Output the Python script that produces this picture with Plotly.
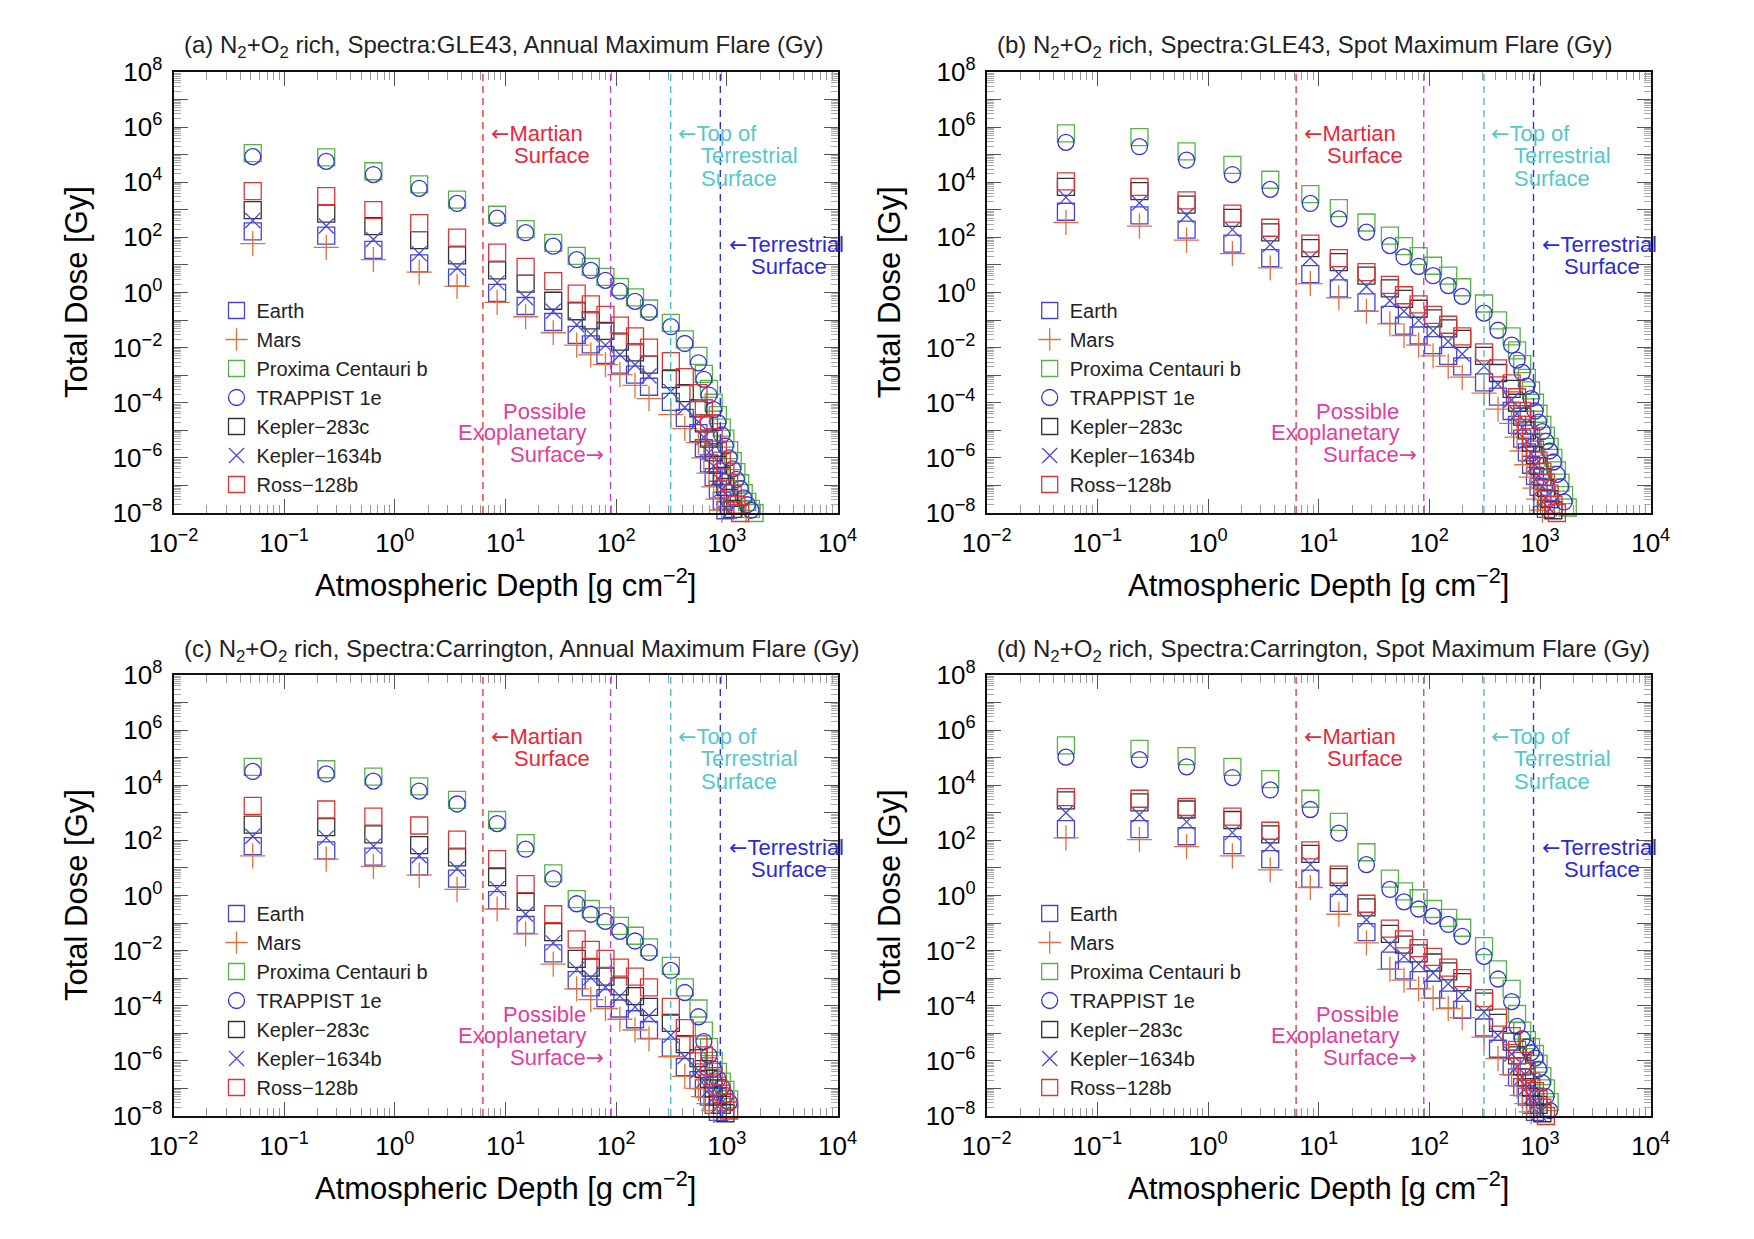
import plotly.graph_objects as go

# ---------------- data (log10 of total dose in Gy) ----------------
DEPTH = [0.052, 0.24, 0.64, 1.66, 3.65, 8.4, 15.2, 27, 44, 59, 80, 108, 148, 198, 312, 417, 554,
         620, 690, 760, 830, 900, 970, 1050, 1130, 1220, 1320, 1420, 1530, 1650, 1780, 1920]

SERIES = ["Earth", "Mars", "Proxima Centauri b", "TRAPPIST 1e",
          "Kepler\u2212283c", "Kepler\u22121634b", "Ross\u2212128b"]

# (a) GLE43, annual maximum flare
a_earth = [2.22, 2.06, 1.55, 1.06, 0.54, -0.01, -0.49, -1.07, -1.54, -1.88, -2.26, -2.62, -2.98, -3.42, -3.97, -4.55, -5.10, -5.65, -6.20, -6.70, -7.15, -7.55, -7.90]
a_mars = [1.77, 1.64, 1.19, 0.74, 0.22, -0.36, -0.88, -1.46, -1.91, -2.26, -2.62, -2.98, -3.37, -3.85, -4.43, -4.94, -5.45, -6.00, -6.55, -7.05, -7.50, -7.90]
a_proxima = [5.06, 4.90, 4.40, 3.92, 3.37, 2.82, 2.30, 1.80, 1.33, 0.93, 0.57, 0.20, -0.18, -0.58, -1.10, -1.70, -2.30, -2.95, -3.50, -4.00, -4.45, -4.90, -5.30, -5.72, -6.12, -6.52, -6.92, -7.28, -7.60, -7.85, -8.00]
a_trappist = [4.93, 4.76, 4.28, 3.78, 3.23, 2.70, 2.17, 1.68, 1.19, 0.80, 0.44, 0.05, -0.32, -0.72, -1.24, -1.85, -2.55, -3.15, -3.72, -4.25, -4.72, -5.17, -5.57, -6.00, -6.40, -6.78, -7.12, -7.45, -7.70, -7.90]
a_k283 = [2.99, 2.86, 2.41, 1.90, 1.35, 0.80, 0.32, -0.30, -0.68, -1.01, -1.39, -1.78, -2.17, -2.62, -3.14, -3.65, -4.20, -4.75, -5.30, -5.80, -6.25, -6.65, -7.05, -7.45, -7.85]
a_k1634 = [2.61, 2.41, 1.92, 1.41, 0.89, 0.35, -0.19, -0.68, -1.17, -1.52, -1.91, -2.26, -2.62, -3.03, -3.59, -4.17, -4.70, -5.25, -5.80, -6.30, -6.75, -7.15, -7.55, -7.95]
a_ross = [3.68, 3.50, 2.99, 2.52, 1.99, 1.45, 0.93, 0.41, -0.04, -0.43, -0.81, -1.20, -1.59, -2.00, -2.49, -3.07, -3.65, -4.20, -4.75, -5.25, -5.70, -6.10, -6.50, -6.90, -7.30, -7.70, -8.00]

# (b) GLE43, spot maximum flare
b_earth = [2.93, 2.80, 2.28, 1.77, 1.25, 0.67, 0.15, -0.36, -0.81, -1.20, -1.56, -1.91, -2.30, -2.68, -3.26, -3.78, -4.30, -4.80, -5.30, -5.80, -6.25, -6.65, -7.05, -7.45, -7.85]
b_mars = [2.54, 2.41, 1.90, 1.41, 0.89, 0.32, -0.19, -0.68, -1.14, -1.56, -1.91, -2.30, -2.68, -3.07, -3.65, -4.23, -4.75, -5.25, -5.75, -6.25, -6.70, -7.10, -7.50, -7.90]
b_proxima = [5.77, 5.64, 5.12, 4.63, 4.09, 3.57, 3.06, 2.54, 2.06, 1.68, 1.32, 0.97, 0.61, 0.19, -0.40, -1.01, -1.59, -2.10, -2.60, -3.10, -3.55, -4.00, -4.40, -4.80, -5.20, -5.60, -6.00, -6.45, -6.90, -7.35, -7.80, -8.05]
b_trappist = [5.45, 5.29, 4.80, 4.28, 3.74, 3.23, 2.67, 2.19, 1.70, 1.29, 0.95, 0.61, 0.25, -0.14, -0.75, -1.37, -1.91, -2.45, -2.90, -3.40, -3.85, -4.30, -4.70, -5.05, -5.40, -5.75, -6.15, -6.60, -7.05, -7.60]
b_k283 = [3.83, 3.68, 3.19, 2.71, 2.18, 1.61, 1.10, 0.61, 0.15, -0.23, -0.59, -0.94, -1.30, -1.68, -2.30, -2.92, -3.50, -4.00, -4.50, -5.00, -5.45, -5.90, -6.30, -6.70, -7.10, -7.50, -7.90]
b_k1634 = [3.45, 3.25, 2.80, 2.28, 1.74, 1.25, 0.67, 0.22, -0.30, -0.68, -1.01, -1.39, -1.78, -2.23, -2.68, -3.33, -3.90, -4.40, -4.90, -5.40, -5.85, -6.25, -6.65, -7.05, -7.45, -7.85]
b_ross = [4.03, 3.83, 3.34, 2.86, 2.35, 1.77, 1.25, 0.74, 0.28, -0.10, -0.43, -0.81, -1.17, -1.59, -2.17, -2.75, -3.30, -3.80, -4.30, -4.80, -5.25, -5.70, -6.10, -6.50, -6.90, -7.30, -7.70, -8.00]

# (c) Carrington, annual maximum flare
c_earth = [1.79, 1.64, 1.41, 1.06, 0.61, -0.17, -1.07, -2.10, -3.07, -3.33, -3.72, -4.10, -4.49, -4.88, -5.52, -6.23, -6.70, -7.00, -7.30, -7.60, -7.85]
c_mars = [1.44, 1.32, 1.06, 0.74, 0.22, -0.49, -1.39, -2.49, -3.39, -3.78, -4.10, -4.49, -4.88, -5.20, -5.85, -6.56, -7.00, -7.30, -7.55, -7.80]
c_proxima = [4.67, 4.58, 4.31, 3.96, 3.47, 2.74, 1.90, 0.80, -0.13, -0.49, -0.75, -1.10, -1.46, -1.88, -2.55, -3.33, -4.10, -4.90, -5.50, -6.00, -6.40, -6.75, -7.05, -7.40]
c_trappist = [4.50, 4.41, 4.15, 3.79, 3.32, 2.61, 1.68, 0.61, -0.30, -0.68, -0.94, -1.30, -1.65, -2.06, -2.72, -3.52, -4.40, -5.30, -5.80, -6.30, -6.65, -6.95, -7.25, -7.50]
c_k283 = [2.57, 2.48, 2.22, 1.83, 1.38, 0.67, -0.23, -1.33, -2.30, -2.62, -2.94, -3.30, -3.65, -4.04, -4.62, -5.39, -5.90, -6.30, -6.65, -7.00, -7.30, -7.60, -7.90]
c_k1634 = [2.15, 2.09, 1.79, 1.44, 0.97, 0.25, -0.68, -1.72, -2.68, -2.98, -3.33, -3.65, -4.04, -4.36, -5.07, -5.85, -6.35, -6.70, -7.05, -7.35, -7.65, -7.95]
c_ross = [3.25, 3.12, 2.86, 2.54, 2.03, 1.32, 0.41, -0.68, -1.59, -1.97, -2.30, -2.62, -2.94, -3.33, -4.04, -4.81, -5.40, -5.80, -6.20, -6.55, -6.90, -7.20, -7.50, -7.80]

# (d) Carrington, spot maximum flare
d_earth = [2.41, 2.41, 2.15, 1.83, 1.32, 0.61, -0.27, -1.33, -2.36, -2.72, -3.07, -3.42, -3.78, -4.15, -4.79, -5.56, -6.20, -6.60, -6.95, -7.30, -7.60, -7.85]
d_mars = [2.09, 2.03, 1.77, 1.44, 0.93, 0.29, -0.68, -1.72, -2.68, -3.07, -3.39, -3.72, -4.10, -4.43, -5.14, -5.92, -6.50, -6.90, -7.25, -7.55, -7.85]
d_proxima = [5.45, 5.32, 5.06, 4.67, 4.22, 3.51, 2.67, 1.57, 0.61, 0.15, -0.10, -0.49, -0.81, -1.17, -1.84, -2.68, -3.39, -4.30, -4.90, -5.25, -5.50, -5.75, -6.10, -6.55, -7.00, -7.50]
d_trappist = [5.02, 4.93, 4.67, 4.28, 3.83, 3.12, 2.26, 1.12, 0.22, -0.23, -0.49, -0.75, -1.05, -1.48, -2.21, -3.03, -3.85, -4.75, -5.20, -5.50, -5.70, -5.90, -6.30, -6.80, -7.30, -7.80]
d_k283 = [3.45, 3.38, 3.12, 2.74, 2.22, 1.51, 0.67, -0.43, -1.39, -1.78, -2.10, -2.43, -2.75, -3.14, -3.85, -4.62, -5.30, -5.80, -6.20, -6.60, -6.95, -7.30, -7.60, -7.90]
d_k1634 = [3.00, 2.93, 2.67, 2.28, 1.83, 1.12, 0.22, -0.88, -1.78, -2.21, -2.49, -2.81, -3.20, -3.59, -4.23, -5.07, -5.75, -6.20, -6.60, -6.95, -7.30, -7.60, -7.90]
d_ross = [3.57, 3.51, 3.21, 2.86, 2.35, 1.64, 0.76, -0.30, -1.20, -1.59, -1.91, -2.23, -2.62, -3.00, -3.72, -4.43, -5.10, -5.60, -6.00, -6.40, -6.75, -7.10, -7.40, -7.70, -8.00]

PANEL_LABELS = ["(a)", "(b)", "(c)", "(d)"]
PANEL_SPECTRA = ["GLE43", "GLE43", "Carrington", "Carrington"]
PANEL_FLARE = ["Annual", "Spot", "Annual", "Spot"]
PANEL_DATA = [
    [a_earth, a_mars, a_proxima, a_trappist, a_k283, a_k1634, a_ross],
    [b_earth, b_mars, b_proxima, b_trappist, b_k283, b_k1634, b_ross],
    [c_earth, c_mars, c_proxima, c_trappist, c_k283, c_k1634, c_ross],
    [d_earth, d_mars, d_proxima, d_trappist, d_k283, d_k1634, d_ross],
]

# reference depths (g cm^-2)
MARTIAN_SURFACE = 6.25
EXO_SURFACE = 89
TOP_TERRESTRIAL = 311
TERRESTRIAL_SURFACE = 873

X_TICK_EXP = [-2, -1, 0, 1, 2, 3, 4]
Y_TICK_EXP = list(range(-8, 9))

# ---------------- styling ----------------
FIG_W, FIG_H = 1754, 1239
FONT = "Liberation Sans, Arial, Helvetica, sans-serif"
LEFTS = [173.5, 986.7, 173.5, 986.7]
TOPS = [72, 72, 675, 675]
PW, PH = 664, 441

STYLES = [
    dict(symbol="square-open", color="#4545d2", size=17),
    dict(symbol="cross-thin-open", color="#e2703e", size=18),
    dict(symbol="square-open", color="#55b348", size=17),
    dict(symbol="circle-open", color="#3535d5", size=16),
    dict(symbol="square-open", color="#333333", size=17),
    dict(symbol="x-thin-open", color="#4a4ad8", size=15),
    dict(symbol="square-open", color="#e03434", size=17),
]

LARR = "<span style='font-family:DejaVu Sans'>\u2190</span>"
RARR = "<span style='font-family:DejaVu Sans'>\u2192</span>"


def px_x(px):
    return px / FIG_W


def px_y(py):
    return 1 - py / FIG_H


fig = go.Figure()

x_minor = [m * 10 ** e for e in range(-2, 4) for m in range(2, 10)]
y_minor = [m * 10 ** e for e in range(-8, 8) for m in range(2, 10)]

annotations = []
shapes = []

for i in range(4):
    xa = "x" if i == 0 else f"x{i+1}"
    ya = "y" if i == 0 else f"y{i+1}"
    xkey = "xaxis" if i == 0 else f"xaxis{i+1}"
    ykey = "yaxis" if i == 0 else f"yaxis{i+1}"
    lkey = "legend" if i == 0 else f"legend{i+1}"
    L, T = LEFTS[i], TOPS[i]

    for j, (name, vals) in enumerate(zip(SERIES, PANEL_DATA[i])):
        st = STYLES[j]
        fig.add_trace(go.Scatter(
            x=DEPTH[:len(vals)], y=[10 ** v for v in vals],
            mode="markers", name=name, xaxis=xa, yaxis=ya,
            legend=lkey, legendgroup=f"p{i}s{j}",
            cliponaxis=False,
            marker=dict(symbol=st["symbol"], size=st["size"], color=st["color"],
                        line=dict(color=st["color"], width=1.3)),
        ))

    fig.layout[xkey] = dict(
        type="log", range=[-2, 4], domain=[px_x(L), px_x(L + PW)], anchor=ya,
        automargin=False,
        showline=True, linecolor="#111111", linewidth=2, mirror="allticks",
        ticks="inside", ticklen=14, tickwidth=1.2, tickcolor="#555555",
        tickvals=[10 ** e for e in X_TICK_EXP],
        ticktext=[f"10<sup>{e}</sup>".replace("-", "\u2212") for e in X_TICK_EXP],
        ticklabelstandoff=6,
        minor=dict(tickmode="array", tickvals=x_minor, ticks="inside", ticklen=8,
                   tickwidth=1, tickcolor="#999999", showgrid=False),
        showgrid=False, zeroline=False,
        tickfont=dict(family=FONT, size=26, color="black"),
    )
    fig.layout[ykey] = dict(
        type="log", range=[-8, 8], domain=[px_y(T + PH), px_y(T)], anchor=xa,
        automargin=False,
        showline=True, linecolor="#111111", linewidth=2, mirror="allticks",
        ticks="inside", ticklen=14, tickwidth=1.2, tickcolor="#555555",
        tickvals=[10 ** e for e in Y_TICK_EXP],
        ticktext=[(f"10<sup>{e}</sup>".replace("-", "\u2212") if e % 2 == 0 else "") for e in Y_TICK_EXP],
        ticklabelstandoff=4,
        minor=dict(tickmode="array", tickvals=y_minor, ticks="inside", ticklen=7,
                   tickwidth=1, tickcolor="#aaaaaa", showgrid=False),
        showgrid=False, zeroline=False,
        tickfont=dict(family=FONT, size=26, color="black"),
    )

    fig.layout[lkey] = dict(
        x=px_x(L + 43), y=px_y(T + 219), xanchor="left", yanchor="top",
        bgcolor="rgba(0,0,0,0)", borderwidth=0, tracegroupgap=0,
        font=dict(family=FONT, size=20, color="#222222"),
    )

    # vertical reference lines
    for xv, col in [(MARTIAN_SURFACE, "#e23c3c"), (EXO_SURFACE, "#c244cc"),
                    (TOP_TERRESTRIAL, "#44c2c8"), (TERRESTRIAL_SURFACE, "#2e2ee0")]:
        shapes.append(dict(type="line", xref=xa, yref=f"{ya} domain", x0=xv, x1=xv, y0=0, y1=1,
                           line=dict(color=col, width=1.4, dash="7px,5px")))

    # text labels for reference lines (log10 coordinates)
    labels = [
        (LARR + "Martian", 0.86, 5.77, "left", "#e8283a"),
        ("Surface", 1.068, 4.97, "left", "#e8283a"),
        (LARR + "Top of", 2.548, 5.77, "left", "#55c8c8"),
        ("Terrestrial", 2.757, 4.97, "left", "#55c8c8"),
        ("Surface", 2.757, 4.15, "left", "#55c8c8"),
        (LARR + "Terrestrial", 3.008, 1.75, "left", "#2a2ad8"),
        ("Surface", 3.205, 0.95, "left", "#2a2ad8"),
        ("Possible", 1.737, -4.32, "right", "#e0409c"),
        ("Exoplanetary", 1.737, -5.08, "right", "#e0409c"),
        ("Surface" + RARR, 1.899, -5.86, "right", "#e0409c"),
    ]
    for txt, lx, ly, anc, col in labels:
        annotations.append(dict(text=txt, x=lx, y=ly, xref=xa, yref=ya, xanchor=anc,
                                yanchor="middle", showarrow=False, borderpad=0,
                                font=dict(family=FONT, size=22, color=col)))

    # panel title
    annotations.append(dict(
        text=f"{PANEL_LABELS[i]} N<sub>2</sub>+O<sub>2</sub> rich, Spectra:{PANEL_SPECTRA[i]}, "
             f"{PANEL_FLARE[i]} Maximum Flare (Gy)",
        x=px_x(L + 8), y=px_y(T - 25), xref="paper", yref="paper",
        xanchor="left", yanchor="middle", showarrow=False,
        font=dict(family=FONT, size=24, color="#222222")))
    # axis titles
    annotations.append(dict(
        text="Atmospheric Depth [g cm<sup>\u22122</sup>]",
        x=px_x(L + PW / 2), y=px_y(T + PH + 70), xref="paper", yref="paper",
        xanchor="center", yanchor="middle", showarrow=False,
        font=dict(family=FONT, size=31, color="black")))
    annotations.append(dict(
        text="Total Dose [Gy]", textangle=-90,
        x=px_x(L - 97), y=px_y(T + PH / 2), xref="paper", yref="paper",
        xanchor="center", yanchor="middle", showarrow=False,
        font=dict(family=FONT, size=31, color="black")))

fig.update_layout(
    width=FIG_W, height=FIG_H,
    margin=dict(l=0, r=0, t=0, b=0),
    paper_bgcolor="white", plot_bgcolor="white",
    showlegend=True,
    annotations=annotations, shapes=shapes,
    font=dict(family=FONT),
)

fig.write_html("out.html")
